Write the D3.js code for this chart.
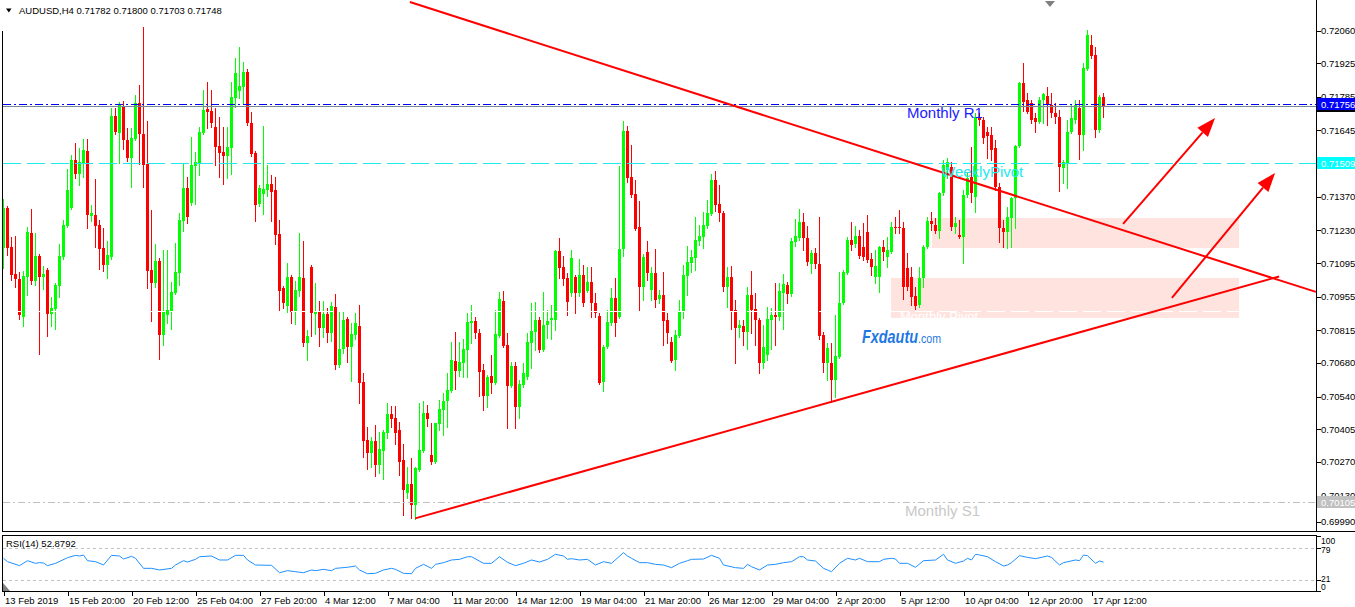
<!DOCTYPE html>
<html><head><meta charset="utf-8">
<script src="https://cdn.jsdelivr.net/npm/d3@7"></script>
<style>
body{margin:0;background:#fff;}
svg{display:block;}
text{font-family:"Liberation Sans",Arial,sans-serif;}
</style>
</head><body>
<svg id="c" width="1355" height="607"></svg>
<script>
// ---------- DATA ----------
const symbolTitle = "AUDUSD,H4  0.71782 0.71800 0.71703 0.71748";
const rsiTitle = "RSI(14) 52.8792";

const openP = [
0.71157,0.71323,0.71162,0.71050,0.71029,0.70871,0.71037,0.71220,0.71020,0.71124,
0.71037,0.71066,0.70884,0.70904,0.71000,0.71120,0.71249,0.71323,0.71523,0.71465,
0.71510,0.71560,0.71290,0.71294,0.71253,0.71157,0.71087,0.71120,0.71705,0.71635,
0.71747,0.71606,0.71531,0.71610,0.71759,0.71631,0.71506,0.71066,0.71012,0.71103,
0.70796,0.70879,0.70896,0.70971,0.71054,0.71269,0.71406,0.71344,0.71498,0.71510,
0.71635,0.71734,0.71726,0.71660,0.71581,0.71556,0.71539,0.71572,0.71780,0.71809,
0.71826,0.71888,0.71676,0.71552,0.71340,0.71382,0.71398,0.71423,0.71398,0.71216,
0.70991,0.70917,0.71037,0.70892,0.70979,0.71033,0.70763,0.71079,0.70884,0.70892,
0.70825,0.70884,0.70805,0.70913,0.70672,0.70738,0.70863,0.70747,0.70796,0.70834,
0.70601,0.70361,0.70307,0.70356,0.70257,0.70315,0.70390,0.70469,0.70452,0.70402,
0.70278,0.70141,0.70178,0.70091,0.70236,0.70315,0.70473,0.70298,0.70269,0.70427,
0.70485,0.70522,0.70564,0.70688,0.70647,0.70680,0.70734,0.70846,0.70854,0.70805,
0.70651,0.70543,0.70626,0.70597,0.70792,0.70937,0.70755,0.70585,0.70668,0.70498,
0.70589,0.70622,0.70763,0.70809,0.70859,0.70734,0.70838,0.70859,0.70859,0.71145,
0.71079,0.71033,0.70971,0.71037,0.70971,0.71045,0.70979,0.71016,0.70929,0.70875,
0.70601,0.70747,0.70846,0.70950,0.70871,0.71153,0.71643,0.71452,0.71382,0.71245,
0.70996,0.71141,0.70983,0.71054,0.70946,0.70962,0.70859,0.70767,0.70693,0.70792,
0.70892,0.71041,0.71095,0.71116,0.71186,0.71203,0.71249,0.71299,0.71440,0.71340,
0.71303,0.70996,0.71037,0.70900,0.70825,0.70834,0.70809,0.70962,0.70904,0.70859,
0.70680,0.70713,0.70859,0.70879,0.70871,0.70971,0.71004,0.70967,0.71182,0.71199,
0.71265,0.71199,0.71091,0.71137,0.71091,0.70796,0.70680,0.70680,0.70610,0.70705,
0.70929,0.71054,0.71191,0.71174,0.71207,0.71162,0.71224,0.71112,0.71037,0.71037,
0.71162,0.71120,0.71141,0.71245,0.71245,0.71240,0.71074,0.71037,0.70958,0.70921,
0.71033,0.71162,0.71269,0.71253,0.71228,0.71386,0.71481,0.71494,0.71245,0.71211,
0.71203,0.71377,0.71452,0.71369,0.71701,0.71689,0.71639,0.71626,0.71572,0.71411,
0.71240,0.71224,0.71282,0.71365,0.71581,0.71842,0.71772,0.71759,0.71697,0.71680,
0.71772,0.71788,0.71751,0.71718,0.71701,0.71489,0.71506,0.71639,0.71689,0.71738,
0.71626,0.71900,0.71999,0.71958,0.71647,0.71782];
const highP = [
0.71361,0.71332,0.71203,0.71207,0.71058,0.71062,0.71245,0.71319,0.71220,0.71133,
0.71083,0.71074,0.70954,0.71012,0.71174,0.71274,0.71485,0.71543,0.71593,0.71572,
0.71610,0.71610,0.71336,0.71444,0.71274,0.71240,0.71186,0.71738,0.71738,0.71763,
0.71767,0.71655,0.71655,0.71792,0.71834,0.72075,0.71684,0.71315,0.71174,0.71116,
0.71149,0.71149,0.71016,0.71178,0.71303,0.71510,0.71452,0.71618,0.71556,0.71660,
0.71813,0.71846,0.71813,0.71738,0.71701,0.71660,0.71660,0.71846,0.71946,0.71992,
0.71929,0.71900,0.71722,0.71560,0.71419,0.71664,0.71502,0.71460,0.71452,0.71274,
0.71000,0.71095,0.71045,0.71020,0.71220,0.71186,0.70817,0.71087,0.71012,0.70937,
0.70937,0.70908,0.70933,0.70967,0.70892,0.70892,0.70871,0.70846,0.70888,0.70921,
0.70639,0.70415,0.70373,0.70423,0.70394,0.70402,0.70514,0.70502,0.70502,0.70435,
0.70344,0.70249,0.70286,0.70249,0.70514,0.70522,0.70506,0.70431,0.70431,0.70527,
0.70556,0.70639,0.70767,0.70809,0.70767,0.70780,0.70888,0.70921,0.70871,0.70821,
0.70676,0.70630,0.70713,0.70900,0.70975,0.70979,0.70805,0.70684,0.70684,0.70610,
0.70680,0.70805,0.70929,0.70933,0.70871,0.70975,0.70900,0.70921,0.71149,0.71199,
0.71124,0.71054,0.71149,0.71045,0.71112,0.71087,0.71079,0.71079,0.70971,0.70888,
0.70755,0.70900,0.70991,0.71033,0.71498,0.71684,0.71664,0.71585,0.71440,0.71352,
0.71133,0.71186,0.71079,0.71153,0.70983,0.71058,0.70888,0.70788,0.70817,0.70942,
0.71087,0.71165,0.71149,0.71286,0.71253,0.71307,0.71357,0.71465,0.71477,0.71419,
0.71311,0.71079,0.71083,0.70942,0.70859,0.70859,0.70996,0.71062,0.70971,0.70867,
0.70838,0.70913,0.70908,0.71012,0.71012,0.71050,0.71016,0.71199,0.71278,0.71319,
0.71303,0.71249,0.71149,0.71157,0.71286,0.70809,0.70763,0.70763,0.70879,0.71058,
0.71066,0.71203,0.71265,0.71249,0.71232,0.71261,0.71294,0.71137,0.71149,0.71166,
0.71191,0.71203,0.71265,0.71286,0.71315,0.71265,0.71137,0.71079,0.70996,0.71079,
0.71169,0.71286,0.71307,0.71282,0.71390,0.71523,0.71531,0.71514,0.71286,0.71274,
0.71398,0.71473,0.71577,0.71718,0.71718,0.71701,0.71660,0.71660,0.71606,0.71427,
0.71274,0.71328,0.71369,0.71585,0.71846,0.71925,0.71801,0.71772,0.71718,0.71784,
0.71801,0.71826,0.71801,0.71759,0.71729,0.71523,0.71689,0.71751,0.71772,0.71772,
0.71925,0.72062,0.72041,0.71992,0.71792,0.71800];
const lowP = [
0.71074,0.71128,0.71025,0.70996,0.70863,0.70834,0.70962,0.71008,0.71004,0.70718,
0.70987,0.70792,0.70834,0.70821,0.70954,0.71112,0.71245,0.71319,0.71448,0.71419,
0.71452,0.71240,0.71269,0.71162,0.71070,0.71062,0.71033,0.71112,0.71631,0.71510,
0.71568,0.71518,0.71411,0.71606,0.71506,0.71411,0.70991,0.70854,0.70996,0.70697,
0.70755,0.70846,0.70821,0.70967,0.71004,0.71228,0.71261,0.71336,0.71340,0.71460,
0.71631,0.71655,0.71660,0.71502,0.71452,0.71423,0.71448,0.71465,0.71743,0.71780,
0.71755,0.71668,0.71539,0.71269,0.71332,0.71299,0.71373,0.71269,0.71174,0.70896,
0.70908,0.70892,0.70846,0.70842,0.70958,0.70751,0.70693,0.70792,0.70801,0.70751,
0.70788,0.70767,0.70771,0.70655,0.70664,0.70722,0.70684,0.70605,0.70780,0.70514,
0.70290,0.70240,0.70249,0.70211,0.70224,0.70199,0.70369,0.70415,0.70344,0.70215,
0.70049,0.70120,0.70037,0.70033,0.70232,0.70311,0.70419,0.70261,0.70265,0.70402,
0.70381,0.70415,0.70560,0.70572,0.70626,0.70622,0.70622,0.70763,0.70784,0.70543,
0.70485,0.70498,0.70556,0.70593,0.70788,0.70747,0.70410,0.70581,0.70410,0.70452,
0.70581,0.70614,0.70659,0.70734,0.70726,0.70730,0.70784,0.70780,0.70817,0.71033,
0.71004,0.70879,0.70958,0.70888,0.70958,0.70917,0.70975,0.70871,0.70871,0.70593,
0.70564,0.70742,0.70838,0.70792,0.70865,0.71124,0.71431,0.71369,0.71232,0.70900,
0.70942,0.71025,0.70942,0.70913,0.70929,0.70755,0.70763,0.70684,0.70651,0.70788,
0.70865,0.70962,0.71058,0.71066,0.71169,0.71157,0.71240,0.71294,0.71311,0.71269,
0.70979,0.70913,0.70821,0.70680,0.70788,0.70755,0.70738,0.70805,0.70755,0.70639,
0.70659,0.70693,0.70738,0.70755,0.70859,0.70821,0.70929,0.70958,0.71166,0.71191,
0.71149,0.71087,0.71054,0.71074,0.70780,0.70643,0.70610,0.70518,0.70539,0.70701,
0.70925,0.71050,0.71149,0.71162,0.71116,0.71108,0.71099,0.71045,0.71012,0.70975,
0.71108,0.71079,0.71137,0.71220,0.71220,0.70946,0.70983,0.70921,0.70904,0.70913,
0.70996,0.71157,0.71232,0.71220,0.71199,0.71377,0.71448,0.71232,0.71220,0.71199,
0.71095,0.71369,0.71348,0.71307,0.71668,0.71593,0.71531,0.71523,0.71398,0.71182,
0.71162,0.71157,0.71162,0.71240,0.71577,0.71726,0.71718,0.71676,0.71639,0.71676,
0.71676,0.71668,0.71701,0.71676,0.71394,0.71427,0.71406,0.71635,0.71676,0.71527,
0.71564,0.71896,0.71946,0.71618,0.71639,0.71703];
const closeP = [
0.71323,0.71157,0.71045,0.71029,0.70879,0.71041,0.71224,0.71020,0.71124,0.71037,
0.71050,0.70884,0.70908,0.71004,0.71124,0.71253,0.71398,0.71523,0.71465,0.71514,
0.71564,0.71294,0.71303,0.71249,0.71153,0.71087,0.71128,0.71705,0.71639,0.71751,
0.71606,0.71531,0.71614,0.71759,0.71631,0.71502,0.71062,0.71012,0.71103,0.70796,
0.70892,0.70900,0.70975,0.71058,0.71274,0.71406,0.71286,0.71502,0.71514,0.71639,
0.71730,0.71722,0.71676,0.71577,0.71552,0.71539,0.71577,0.71784,0.71884,0.71830,
0.71888,0.71676,0.71548,0.71336,0.71406,0.71402,0.71423,0.71390,0.71211,0.70979,
0.70929,0.71037,0.70892,0.70983,0.71037,0.70763,0.70792,0.70888,0.70892,0.70825,
0.70884,0.70805,0.70917,0.70672,0.70738,0.70859,0.70747,0.70801,0.70846,0.70597,
0.70356,0.70307,0.70356,0.70257,0.70323,0.70394,0.70469,0.70448,0.70390,0.70269,
0.70153,0.70178,0.70091,0.70244,0.70319,0.70473,0.70448,0.70269,0.70431,0.70489,
0.70522,0.70568,0.70693,0.70647,0.70684,0.70738,0.70850,0.70854,0.70805,0.70643,
0.70543,0.70622,0.70597,0.70801,0.70946,0.70751,0.70585,0.70668,0.70498,0.70593,
0.70639,0.70767,0.70813,0.70859,0.70734,0.70838,0.70854,0.70865,0.71145,0.71074,
0.71029,0.70933,0.71116,0.70971,0.71045,0.70929,0.71016,0.70929,0.70888,0.70597,
0.70747,0.70850,0.70950,0.70846,0.71153,0.71643,0.71448,0.71377,0.71236,0.70996,
0.71120,0.71054,0.71054,0.70942,0.70962,0.70854,0.70805,0.70688,0.70796,0.70892,
0.71045,0.71099,0.71120,0.71191,0.71207,0.71253,0.71303,0.71440,0.71336,0.71303,
0.70996,0.71037,0.70896,0.70825,0.70838,0.70809,0.70962,0.70900,0.70859,0.70680,
0.70747,0.70863,0.70879,0.70871,0.70979,0.71008,0.70967,0.71186,0.71207,0.71265,
0.71199,0.71099,0.71137,0.71091,0.70792,0.70680,0.70742,0.70610,0.70709,0.70929,
0.71058,0.71191,0.71169,0.71207,0.71124,0.71120,0.71108,0.71079,0.71083,0.71162,
0.71141,0.71149,0.71245,0.71240,0.71240,0.70996,0.70996,0.70954,0.70917,0.71033,
0.71162,0.71269,0.71257,0.71228,0.71386,0.71502,0.71514,0.71245,0.71261,0.71203,
0.71377,0.71448,0.71386,0.71701,0.71689,0.71614,0.71622,0.71564,0.71411,0.71240,
0.71224,0.71286,0.71365,0.71581,0.71842,0.71763,0.71722,0.71689,0.71680,0.71772,
0.71797,0.71751,0.71718,0.71701,0.71494,0.71514,0.71639,0.71697,0.71751,0.71626,
0.71904,0.72041,0.71954,0.71647,0.71784,0.71748];

const dateLabels = ["13 Feb 2019","15 Feb 20:00","20 Feb 12:00","25 Feb 04:00","27 Feb 20:00",
"4 Mar 12:00","7 Mar 04:00","11 Mar 20:00","14 Mar 12:00","19 Mar 04:00","21 Mar 20:00",
"26 Mar 12:00","29 Mar 04:00","2 Apr 20:00","5 Apr 12:00","10 Apr 04:00","12 Apr 20:00","17 Apr 12:00"];
const barsPerLabel = 16;

const priceTicks = [0.72060,0.71925,0.71785,0.71645,0.71510,0.71370,0.71230,0.71095,
0.70955,0.70815,0.70680,0.70540,0.70405,0.70270,0.70130,0.69990];

const rsiBars = [0,1,4,6,8,9,10,11,13,16,18,19,20,21,23,25,27,29,30,32,33,35,37,39,42,43,45,46,48,49,
52,54,56,58,60,61,63,67,69,71,73,75,77,78,80,82,83,86,88,89,91,93,95,97,98,100,102,103,105,107,
108,110,112,114,116,117,120,122,124,126,128,130,132,134,136,138,140,141,142,144,146,148,150,152,155,156,157,159,161,163,
165,167,169,171,172,175,177,179,180,183,185,186,187,189,191,193,195,197,199,200,201,203,205,206,207,209,211,213,214,216,
219,220,222,223,224,226,228,230,233,235,236,238,240,241,242,243,244,246,248,250,251,252,254,256,258,261,262,264,265,268,
269,270,271,273,274,275];
const rsiValues = [59.9,53.7,46.4,55.5,50.7,51.9,51.3,46.4,50.7,61,65.3,64.1,65.9,55.5,53.7,47.6,65.3,64.1,58.6,63.5,59.9,41.5,41.5,38.5,41.5,47.6,55.5,53.1,58,62.8,
64.1,56.8,56.8,65.3,65.3,56.8,47.6,47,33.5,37.2,35.4,33.5,38.5,37.2,39.7,37.2,41.5,43.4,45.8,38.5,31.7,32.4,38.5,41.5,39.7,32.4,31.7,41.5,48.8,41.5,
48.8,51.9,56.8,58,62.8,62.8,50.7,50.7,62.8,52.5,46.4,50.7,56.8,53.1,58,67.2,64.1,58,59.2,56.8,58,47.6,53.7,50.7,70.2,64.1,59.9,51.9,51.9,48.8,
47.6,42.7,50.7,55.5,58,58.6,65.3,59.9,47.6,42.7,41.5,48.8,44.5,38.5,47.6,48.8,51.9,53.7,62.8,62.8,56.8,54.9,41.5,38.5,35.4,50.7,59.9,56.8,59.9,53.7,
53.7,58,59.9,58.6,50.7,50.7,43.4,55.5,56.8,67.2,56.8,50.7,54.9,59.9,56.8,67.2,66,62.8,53.7,45.8,47.6,51.9,64.7,61.6,59.2,64.1,61.6,47.6,51.9,56.8,
55.5,65.9,64.7,50.7,54.9,52.88];
const rsiLevels = [79, 21];
const rsiAxisLabels = [100, 79, 21, 0];

const levels = [
  {name:"Monthly R1", price:0.71756},
  {name:"Bid", price:0.71748},
  {name:"WeeklyPivot", price:0.71509},
  {name:"Monthly Pivot", price:0.70895},
  {name:"Monthly S1", price:0.70105}
];
// chart objects anchored at (bar, price)
const trendLines = [
  {b0:101.6, p0:0.72178, b1:328.1, p1:0.70975},
  {b0:102.9, p0:0.70035, b1:318.9, p1:0.71039}
];
const arrows = [
  {b0:279.9, p0:0.71257, b1:302.9, p1:0.71697},
  {b0:292.1, p0:0.70950, b1:317.9, p1:0.71469}
];
const zones = [
  {b0:232.1, b1:308.9, pTop:0.71282, pBot:0.71157},
  {b0:221.9, b1:308.9, pTop:0.71033, pBot:0.70867}
];

// ---------- DRAW ----------
const svg = d3.select("#c");
const W = 1355, axisX = 1316.5, mainBottom = 531.5, rsiTop = 535.5, rsiBottom = 591.5;

const x = d3.scaleLinear().domain([0, 1]).range([3.5, 7.5]);
const y = d3.scaleLinear().domain([0.70130, 0.72060]).range([495.5, 30.5]);
const yR = d3.scaleLinear().domain([0, 100]).range([591, 536.4]);

svg.append("clipPath").attr("id","cm").append("rect")
  .attr("x",3).attr("y",0).attr("width",axisX-3).attr("height",mainBottom);
const main = svg.append("g").attr("clip-path","url(#cm)");

// zones
main.selectAll("rect.zone").data(zones).join("rect").attr("class","zone")
  .attr("x", d=>x(d.b0)).attr("width", d=>x(d.b1)-x(d.b0))
  .attr("y", d=>y(d.pTop)).attr("height", d=>y(d.pBot)-y(d.pTop))
  .attr("fill","#ffe3df");

// candles
const idx = d3.range(openP.length);
const cg = main.append("g").attr("shape-rendering","crispEdges");
cg.selectAll("line.w").data(idx).join("line")
  .attr("x1", i=>x(i)).attr("x2", i=>x(i))
  .attr("y1", i=>Math.round(y(highP[i]))).attr("y2", i=>Math.round(y(lowP[i]))+1)
  .attr("stroke", i=> closeP[i] >= openP[i] ? "#00ff00" : "#ff0000").attr("stroke-width",1);
cg.selectAll("rect.b").data(idx).join("rect")
  .attr("x", i=>x(i)-1.5).attr("width",3)
  .attr("y", i=>Math.round(y(Math.max(openP[i],closeP[i]))))
  .attr("height", i=>Math.max(1, Math.round(y(Math.min(openP[i],closeP[i])))-Math.round(y(Math.max(openP[i],closeP[i])))))
  .attr("fill", i=> closeP[i] >= openP[i] ? "#00ff00" : "#ff0000");

// level lines
const lvlStyle = {
  "Monthly R1": {c:"#0000ff", d:"8,3,2,3"},
  "Bid": {c:"#778899", d:null},
  "WeeklyPivot": {c:"#20e8ee", d:"18,6"},
  "Monthly Pivot": {c:"#ffffff", d:"18,6"},
  "Monthly S1": {c:"#c0c0c0", d:"7,3,2,3"}
};
levels.forEach(l=>{
  const s = lvlStyle[l.name];
  const yy = Math.round(y(l.price)) + 0.5;
  const ln = main.append("line").attr("x1",3).attr("x2",axisX).attr("y1",yy).attr("y2",yy)
    .attr("stroke",s.c).attr("stroke-width",1).attr("shape-rendering","crispEdges");
  if (s.d) ln.attr("stroke-dasharray", s.d);
});

// trend lines
main.selectAll("line.tl").data(trendLines).join("line")
  .attr("x1",d=>x(d.b0)).attr("y1",d=>y(d.p0)).attr("x2",d=>x(d.b1)).attr("y2",d=>y(d.p1))
  .attr("stroke","#ff0000").attr("stroke-width",2);

// arrows
arrows.forEach(a=>{
  const x0=x(a.b0), y0=y(a.p0), x1=x(a.b1), y1=y(a.p1);
  const ang = Math.atan2(y1-y0, x1-x0), L=19, H=7;
  const bx = x1 - L*Math.cos(ang), by = y1 - L*Math.sin(ang);
  main.append("line").attr("x1",x0).attr("y1",y0).attr("x2",bx).attr("y2",by)
    .attr("stroke","#ff0000").attr("stroke-width",2);
  const px = -Math.sin(ang), py = Math.cos(ang);
  main.append("path").attr("d", `M${x1},${y1}L${bx+px*H},${by+py*H}L${bx-px*H},${by-py*H}Z`)
    .attr("fill","#ff0000");
});

// level texts
const lt = main.append("g").style("font-size","15px");
lt.append("text").attr("x",907).attr("y",118).attr("fill","#1a1aff").text("Monthly R1");
lt.append("text").attr("x",941).attr("y",177).attr("fill","#22e8ee").text("WeeklyPivot");
lt.append("text").attr("x",900).attr("y",321).style("font-size","13px").attr("fill","#ffffff").text("Monthly Pivot");
lt.append("text").attr("x",905).attr("y",516).attr("fill","#c8c8c8").text("Monthly S1");

// watermark (single text element)
const wm = main.append("text").attr("x",862).attr("y",343).attr("fill","#1f78e2");
wm.append("tspan").style("font-size","18px").style("font-weight","bold").style("font-style","italic")
  .attr("textLength",56).attr("lengthAdjust","spacingAndGlyphs").text("Fxdautu");
wm.append("tspan").style("font-size","13px").attr("textLength",23).attr("lengthAdjust","spacingAndGlyphs").text(".com");

// shift marker
svg.append("path").attr("d","M1045,1L1055,1L1050,7Z").attr("fill","#808080");

// header
svg.append("path").attr("d","M6,8.5L11.5,8.5L8.75,12.5Z").attr("fill","#000");
svg.append("text").attr("x",19).attr("y",14).style("font-size","9.5px").attr("fill","#000").text(symbolTitle);

// frame
const fr = svg.append("g").attr("stroke","#000").attr("stroke-width",1).attr("shape-rendering","crispEdges");
fr.append("line").attr("x1",2.5).attr("x2",2.5).attr("y1",31).attr("y2",mainBottom);
fr.append("line").attr("x1",axisX).attr("x2",axisX).attr("y1",0).attr("y2",mainBottom);
fr.append("line").attr("x1",2).attr("x2",W).attr("y1",mainBottom).attr("y2",mainBottom);
fr.append("line").attr("x1",2).attr("x2",axisX).attr("y1",rsiTop).attr("y2",rsiTop);
fr.append("line").attr("x1",2).attr("x2",axisX).attr("y1",rsiBottom).attr("y2",rsiBottom);
fr.append("line").attr("x1",2.5).attr("x2",2.5).attr("y1",rsiTop).attr("y2",rsiBottom);
fr.append("line").attr("x1",axisX).attr("x2",axisX).attr("y1",rsiTop).attr("y2",rsiBottom);

// price axis
const pa = svg.append("g").style("font-size","9.5px");
priceTicks.forEach(p=>{
  const ty = Math.min(y(p), 521.5);
  pa.append("line").attr("x1",axisX).attr("x2",axisX+4).attr("y1",Math.round(ty)+0.5).attr("y2",Math.round(ty)+0.5)
    .attr("stroke","#000").attr("shape-rendering","crispEdges");
  pa.append("text").attr("x",1321).attr("y",ty+3.5).attr("fill","#000").text(p.toFixed(5));
});
// price label boxes
function priceBox(price, bg, fg){
  const yy = y(price);
  pa.append("rect").attr("x",axisX+0.5).attr("y",Math.round(yy)-6).attr("width",W-axisX).attr("height",12).attr("fill",bg);
  pa.append("text").attr("x",1321).attr("y",Math.round(yy)+3.5).attr("fill",fg).text(price.toFixed(5));
}
priceBox(levels[1].price, "#000000", "#ffffff");
priceBox(levels[0].price, "#0000ff", "#ffffff");
priceBox(levels[2].price, "#00ffff", "#ffffff");
priceBox(levels[4].price, "#c0c0c0", "#ffffff");

// RSI panel
const rg = svg.append("g");
rsiLevels.forEach(v=>{
  rg.append("line").attr("x1",3).attr("x2",axisX).attr("y1",Math.round(yR(v))+0.5).attr("y2",Math.round(yR(v))+0.5)
    .attr("stroke","#c0c0c0").attr("stroke-dasharray","3,3").attr("shape-rendering","crispEdges");
});
const rsiPts = rsiBars.map((b,k)=>[x(b), yR(rsiValues[k])]);
rg.append("path").attr("d", d3.line()(rsiPts)).attr("fill","none").attr("stroke","#1e90ff").attr("stroke-width",1);
rg.append("text").attr("x",6).attr("y",547).style("font-size","9.5px").attr("fill","#000").text(rsiTitle);
rg.append("path").attr("d","M3,583L3,591L10,591Z").attr("fill","#808080");
// axis labels: 100 and 0 are pinned inside the panel edges (as in the reference)
const rsiLabelY = {100: 540.5, 79: 549.5, 21: 578.5, 0: 587};
rsiAxisLabels.forEach(v=>{
  rg.append("line").attr("x1",axisX).attr("x2",axisX+4).attr("y1",Math.round(yR(v))+0.5).attr("y2",Math.round(yR(v))+0.5)
    .attr("stroke","#000").attr("shape-rendering","crispEdges");
  rg.append("text").attr("x",1321).attr("y",rsiLabelY[v]+3).style("font-size","8.5px").attr("fill","#000").text(v);
});

// time axis
const ta = svg.append("g").style("font-size","9.5px");
dateLabels.forEach((lab,k)=>{
  const xx = Math.round(x(k*barsPerLabel))+0.5;
  ta.append("line").attr("x1",xx).attr("x2",xx).attr("y1",rsiBottom).attr("y2",rsiBottom+4)
    .attr("stroke","#000").attr("shape-rendering","crispEdges");
  ta.append("text").attr("x",xx+0.5).attr("y",604).attr("fill","#000").text(lab);
});
</script>
</body></html>
